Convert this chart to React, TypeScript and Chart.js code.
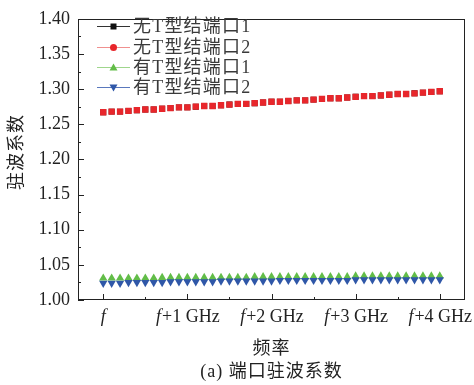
import React, { useEffect, useRef } from "react";
import { Chart, registerables } from "chart.js";

Chart.register(...registerables);

// Frequency offsets from f, in GHz
const freqOffsets = [
  0, 0.1, 0.2, 0.3, 0.4, 0.5, 0.6, 0.7, 0.8, 0.9,
  1.0, 1.1, 1.2, 1.3, 1.4, 1.5, 1.6, 1.7, 1.8, 1.9,
  2.0, 2.1, 2.2, 2.3, 2.4, 2.5, 2.6, 2.7, 2.8, 2.9,
  3.0, 3.1, 3.2, 3.3, 3.4, 3.5, 3.6, 3.7, 3.8, 3.9, 4.0,
];

// Standing wave ratio without T junction, port 1
const noTPort1 = [
  1.267, 1.268, 1.268, 1.269, 1.270, 1.271, 1.271, 1.272, 1.273, 1.274,
  1.274, 1.275, 1.276, 1.276, 1.277, 1.278, 1.279, 1.279, 1.280, 1.281,
  1.282, 1.282, 1.283, 1.284, 1.284, 1.285, 1.286, 1.287, 1.287, 1.288,
  1.289, 1.290, 1.290, 1.291, 1.292, 1.293, 1.293, 1.294, 1.295, 1.296, 1.297,
];

// Standing wave ratio without T junction, port 2
const noTPort2 = [
  1.267, 1.268, 1.268, 1.269, 1.270, 1.271, 1.271, 1.272, 1.273, 1.274,
  1.274, 1.275, 1.276, 1.276, 1.277, 1.278, 1.279, 1.279, 1.280, 1.281,
  1.282, 1.282, 1.283, 1.284, 1.284, 1.285, 1.286, 1.287, 1.287, 1.288,
  1.289, 1.290, 1.290, 1.291, 1.292, 1.293, 1.293, 1.294, 1.295, 1.296, 1.297,
];

// Standing wave ratio with T junction, port 1
const withTPort1 = [
  1.031, 1.031, 1.031, 1.031, 1.031, 1.031, 1.031, 1.032, 1.032, 1.032,
  1.032, 1.032, 1.032, 1.032, 1.032, 1.032, 1.032, 1.032, 1.033, 1.033,
  1.033, 1.033, 1.033, 1.033, 1.033, 1.033, 1.033, 1.033, 1.033, 1.033,
  1.034, 1.034, 1.034, 1.034, 1.034, 1.034, 1.034, 1.034, 1.034, 1.034, 1.034,
];

// Standing wave ratio with T junction, port 2
const withTPort2 = [
  1.024, 1.024, 1.024, 1.025, 1.025, 1.025, 1.025, 1.025, 1.026, 1.026,
  1.026, 1.026, 1.026, 1.026, 1.027, 1.027, 1.027, 1.027, 1.027, 1.027,
  1.027, 1.028, 1.028, 1.028, 1.028, 1.028, 1.028, 1.028, 1.028, 1.028,
  1.029, 1.029, 1.029, 1.029, 1.029, 1.029, 1.029, 1.029, 1.029, 1.029, 1.029,
];

const seriesNames = ["无T型结端口1", "无T型结端口2", "有T型结端口1", "有T型结端口2"];
const xTickValues = [0, 1, 2, 3, 4];
const xTickSuffixes = ["", "+1 GHz", "+2 GHz", "+3 GHz", "+4 GHz"];
const xTitle = "频率";
const yTitle = "驻波系数";
const caption = "(a) 端口驻波系数";

const SERIF = "'Liberation Serif', 'Noto Sans CJK SC', serif";
const INK = "#222";

const markerColors = ["#111111", "#e8262b", "#62bd48", "#2f57a8"];
const legendLineColors = ["#333333", "#f0908f", "#9fd68c", "#5a78bd"];
const markerShapes = ["square", "circle", "up", "down"];

function drawMarker(ctx: CanvasRenderingContext2D, shape: string, x: number, y: number, color: string) {
  ctx.save();
  ctx.fillStyle = color;
  ctx.beginPath();
  if (shape === "square") {
    ctx.rect(x - 3, y - 3, 6, 6);
  } else if (shape === "circle") {
    ctx.arc(x, y, 3.5, 0, Math.PI * 2);
  } else if (shape === "up") {
    ctx.moveTo(x, y - 4);
    ctx.lineTo(x + 4, y + 3);
    ctx.lineTo(x - 4, y + 3);
    ctx.closePath();
  } else {
    ctx.moveTo(x, y + 4);
    ctx.lineTo(x + 4, y - 3);
    ctx.lineTo(x - 4, y - 3);
    ctx.closePath();
  }
  ctx.fill();
  ctx.restore();
}

const decorPlugin = {
  id: "decor",
  afterDraw(chart: any) {
    const ctx: any = chart.ctx;
    const area = chart.chartArea;
    const xs = chart.scales.x;
    const ys = chart.scales.y;
    ctx.save();

    // frame
    ctx.strokeStyle = INK;
    ctx.lineWidth = 1;
    ctx.strokeRect(Math.round(area.left) + 0.5, Math.round(area.top) + 0.5,
      Math.round(area.right - area.left) - 1, Math.round(area.bottom - area.top) - 1);

    // inward ticks on the left axis
    ctx.beginPath();
    for (let i = 0; i <= 16; i++) {
      const v = 1.0 + i * 0.025;
      const py = Math.round(ys.getPixelForValue(v)) + 0.5;
      const len = i % 2 === 0 ? 6 : 3;
      ctx.moveTo(area.left, py);
      ctx.lineTo(area.left + len, py);
    }
    // inward ticks on the bottom axis
    for (let i = 0; i <= 8; i++) {
      const v = i * 0.5;
      const px = Math.round(xs.getPixelForValue(v)) + 0.5;
      const len = i % 2 === 0 ? 6 : 3;
      ctx.moveTo(px, area.bottom);
      ctx.lineTo(px, area.bottom - len);
    }
    ctx.stroke();

    // x tick labels: italic f followed by the offset
    ctx.fillStyle = INK;
    ctx.textBaseline = "middle";
    const italic = "italic 18px " + SERIF;
    const upright = "18px " + SERIF;
    xTickValues.forEach((v, i) => {
      const px = xs.getPixelForValue(v);
      ctx.font = italic;
      const wf = ctx.measureText("f").width;
      ctx.font = upright;
      const ws = ctx.measureText(xTickSuffixes[i]).width;
      const start = px - (wf + ws) / 2;
      ctx.textAlign = "left";
      ctx.font = italic;
      ctx.fillText("f", start, 317);
      ctx.font = upright;
      ctx.fillText(xTickSuffixes[i], start + wf + 1, 317);
    });

    // axis titles and caption
    const cx = (area.left + area.right) / 2;
    ctx.textAlign = "center";
    ctx.font = "18px " + SERIF;
    ctx.letterSpacing = "1px";
    ctx.fillText(xTitle, cx, 349);
    ctx.fillText(caption, cx, 372);
    ctx.save();
    ctx.translate(17, 152);
    ctx.rotate(-Math.PI / 2);
    ctx.fillText(yTitle, 0, 0);
    ctx.restore();

    // legend
    const rows = [26, 47, 67, 87];
    ctx.textAlign = "left";
    ctx.font = "18px " + SERIF;
    ctx.letterSpacing = "1.2px";
    seriesNames.forEach((name, i) => {
      const y = rows[i];
      ctx.strokeStyle = legendLineColors[i];
      ctx.beginPath();
      ctx.moveTo(97, y + 0.5);
      ctx.lineTo(130, y + 0.5);
      ctx.stroke();
      drawMarker(ctx, markerShapes[i], 113.5, y + 0.5, markerColors[i]);
      ctx.fillStyle = "#3a3a3a";
      ctx.fillText(name, 133, y + 1);
    });
    ctx.letterSpacing = "0px";

    ctx.restore();
  },
};

export default function App() {
  const canvasRef = useRef<HTMLCanvasElement | null>(null);

  useEffect(() => {
    if (!canvasRef.current) return;
    const mk = (ys: number[]) => freqOffsets.map((x, i) => ({ x, y: ys[i] }));
    const chart = new Chart(canvasRef.current, {
      type: "scatter",
      data: {
        datasets: [
          {
            label: seriesNames[0],
            data: mk(noTPort1),
            pointStyle: "rect",
            pointRadius: 4.2,
            backgroundColor: markerColors[0],
            borderWidth: 0,
            showLine: false,
            order: 2,
          },
          {
            label: seriesNames[1],
            data: mk(noTPort2),
            pointStyle: "rect",
            pointRadius: 4.5,
            backgroundColor: markerColors[1],
            borderWidth: 0,
            showLine: false,
            order: 1,
          },
          {
            label: seriesNames[2],
            data: mk(withTPort1),
            pointStyle: "triangle",
            pointRadius: 4.8,
            backgroundColor: markerColors[2],
            borderWidth: 0,
            showLine: false,
            order: 4,
          },
          {
            label: seriesNames[3],
            data: mk(withTPort2),
            pointStyle: "triangle",
            rotation: 180,
            pointRadius: 4.8,
            backgroundColor: markerColors[3],
            borderWidth: 0,
            showLine: false,
            order: 3,
          },
        ],
      },
      options: {
        responsive: false,
        animation: false,
        events: [],
        layout: { padding: { left: 0, right: 9, top: 14, bottom: 0 } },
        plugins: {
          legend: { display: false },
          tooltip: { enabled: false },
        },
        scales: {
          x: {
            type: "linear",
            min: -0.3,
            max: 4.3,
            grid: { display: false, drawTicks: false },
            border: { display: false },
            ticks: { display: false },
            afterFit: (scale: any) => {
              scale.height = 85;
            },
          },
          y: {
            type: "linear",
            min: 1.0,
            max: 1.4,
            grid: { display: false, drawTicks: false },
            border: { display: false },
            ticks: {
              stepSize: 0.05,
              padding: 8,
              color: INK,
              font: { family: SERIF, size: 18 },
              callback: (v: any) => Number(v).toFixed(2),
            },
            afterFit: (scale: any) => {
              scale.width = 78;
            },
          },
        },
      },
      plugins: [decorPlugin],
    });
    return () => chart.destroy();
  }, []);

  return (
    <div style={{ position: "fixed", left: 0, top: 0, width: 474, height: 385, background: "#fff" }}>
      <canvas ref={canvasRef} width={474} height={385} />
    </div>
  );
}
